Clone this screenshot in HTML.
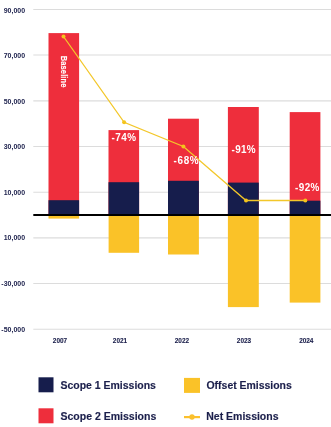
<!DOCTYPE html>
<html><head><meta charset="utf-8">
<style>
html,body{margin:0;padding:0;background:#fff;width:331px;height:427px;overflow:hidden}
svg{display:block;will-change:transform}
text{font-family:"Liberation Sans",sans-serif;font-weight:bold}
</style></head><body>
<svg width="331" height="427" viewBox="0 0 331 427">
<g stroke="#dcdcdc" stroke-width="1.1">
<line x1="33.3" x2="331" y1="9.45" y2="9.45"/>
<line x1="33.3" x2="331" y1="55.05" y2="55.05"/>
<line x1="33.3" x2="331" y1="100.85" y2="100.85"/>
<line x1="33.3" x2="331" y1="146.45" y2="146.45"/>
<line x1="33.3" x2="331" y1="192.3" y2="192.3"/>
<line x1="33.3" x2="331" y1="237.85" y2="237.85"/>
<line x1="33.3" x2="331" y1="283.45" y2="283.45"/>
<line x1="33.3" x2="331" y1="329.3" y2="329.3"/>
</g>
<g fill="#1b1f4b" font-size="7" text-anchor="end">
<text x="25.1" y="12.8">90,000</text>
<text x="25.1" y="57.8">70,000</text>
<text x="25.1" y="103.8">50,000</text>
<text x="25.1" y="148.9">30,000</text>
<text x="25.1" y="194.8">10,000</text>
<text x="25.1" y="239.8">10,000</text>
<text x="25.1" y="285.8">-30,000</text>
<text x="25.1" y="331.8">-50,000</text>
</g>
<!-- red -->
<g fill="#ee2e3c">
<rect x="48.5" y="33.1" width="30.6" height="182"/>
<rect x="108.5" y="130.1" width="30.6" height="85"/>
<rect x="168.0" y="118.7" width="30.9" height="96"/>
<rect x="227.9" y="107.0" width="30.9" height="108"/>
<rect x="289.7" y="112.1" width="30.7" height="103"/>
</g>
<g fill="#161d4c">
<rect x="48.5" y="200.2" width="30.6" height="15"/>
<rect x="108.5" y="182.2" width="30.6" height="33"/>
<rect x="168.0" y="180.8" width="30.9" height="34"/>
<rect x="227.9" y="182.6" width="30.9" height="32"/>
<rect x="289.7" y="200.7" width="30.7" height="14"/>
</g>
<g fill="#fac228">
<rect x="48.5" y="215" width="30.6" height="3.6"/>
<rect x="108.6" y="215" width="30.5" height="37.8"/>
<rect x="168.0" y="215" width="30.9" height="39.5"/>
<rect x="227.9" y="215" width="30.9" height="92.1"/>
<rect x="289.7" y="215" width="30.7" height="87.6"/>
</g>
<line x1="33.3" x2="331" y1="215" y2="215" stroke="#000" stroke-width="2"/>
<polyline points="63.5,36.5 124.1,122.3 183.4,146.5 246.0,200.5 305.3,200.5" fill="none" stroke="#f3c72a" stroke-width="1.3"/>
<g fill="#f4c41c">
<circle cx="63.5" cy="36.5" r="2"/>
<circle cx="124.1" cy="122.3" r="2"/>
<circle cx="183.4" cy="146.5" r="2"/>
<circle cx="246.0" cy="200.5" r="2"/>
<circle cx="305.3" cy="200.5" r="2"/>
</g>
<g fill="#fff">
<text x="-0.4" y="0" font-size="8.5" textLength="36" lengthAdjust="spacing" stroke="#fff" stroke-width="0.15" transform="translate(60.8 56.1) rotate(90) scale(0.88 1)">Baseline</text>
<text x="0" y="0" font-size="11" textLength="27.3" lengthAdjust="spacing" transform="translate(111.5 141.1) scale(0.9 1)">-74%</text>
<text x="0" y="0" font-size="11" textLength="27.9" lengthAdjust="spacing" transform="translate(173.5 164.3) scale(0.9 1)">-68%</text>
<text x="0" y="0" font-size="11" textLength="26.6" lengthAdjust="spacing" transform="translate(231.6 153.1) scale(0.9 1)">-91%</text>
<text x="0" y="0" font-size="11" textLength="26.9" lengthAdjust="spacing" transform="translate(295.1 191.1) scale(0.9 1)">-92%</text>
</g>

<g fill="#1b1f4b" stroke="#1b1f4b" stroke-width="0.12" font-size="7" text-anchor="middle">
<text x="60" y="342.8" textLength="14.3" lengthAdjust="spacingAndGlyphs">2007</text>
<text x="120" y="342.8" textLength="14.3" lengthAdjust="spacingAndGlyphs">2021</text>
<text x="181.9" y="342.8" textLength="14.3" lengthAdjust="spacingAndGlyphs">2022</text>
<text x="244" y="342.8" textLength="14.3" lengthAdjust="spacingAndGlyphs">2023</text>
<text x="306.3" y="342.8" textLength="14.3" lengthAdjust="spacingAndGlyphs">2024</text>
</g>
<!-- legend -->
<rect x="38.5" y="377.3" width="15" height="15" fill="#161d4c"/>
<rect x="38.5" y="408.3" width="15" height="15" fill="#ee2e3c"/>
<rect x="184" y="377.9" width="16" height="15" fill="#fac228"/>
<line x1="184" x2="200" y1="417.1" y2="417.1" stroke="#fbc02d" stroke-width="2.2"/>
<circle cx="192" cy="417" r="2.7" fill="#fbc02d"/>
<g fill="#1b1f4b" stroke="#1b1f4b" stroke-width="0.15" font-size="10">
<text x="60.5" y="389" textLength="95.4" lengthAdjust="spacingAndGlyphs">Scope 1 Emissions</text>
<text x="60.5" y="419.8" textLength="95.8" lengthAdjust="spacingAndGlyphs">Scope 2 Emissions</text>
<text x="206.5" y="389" textLength="85.3" lengthAdjust="spacingAndGlyphs">Offset Emissions</text>
<text x="206.3" y="420" textLength="72.2" lengthAdjust="spacingAndGlyphs">Net Emissions</text>
</g>
</svg>
</body></html>
